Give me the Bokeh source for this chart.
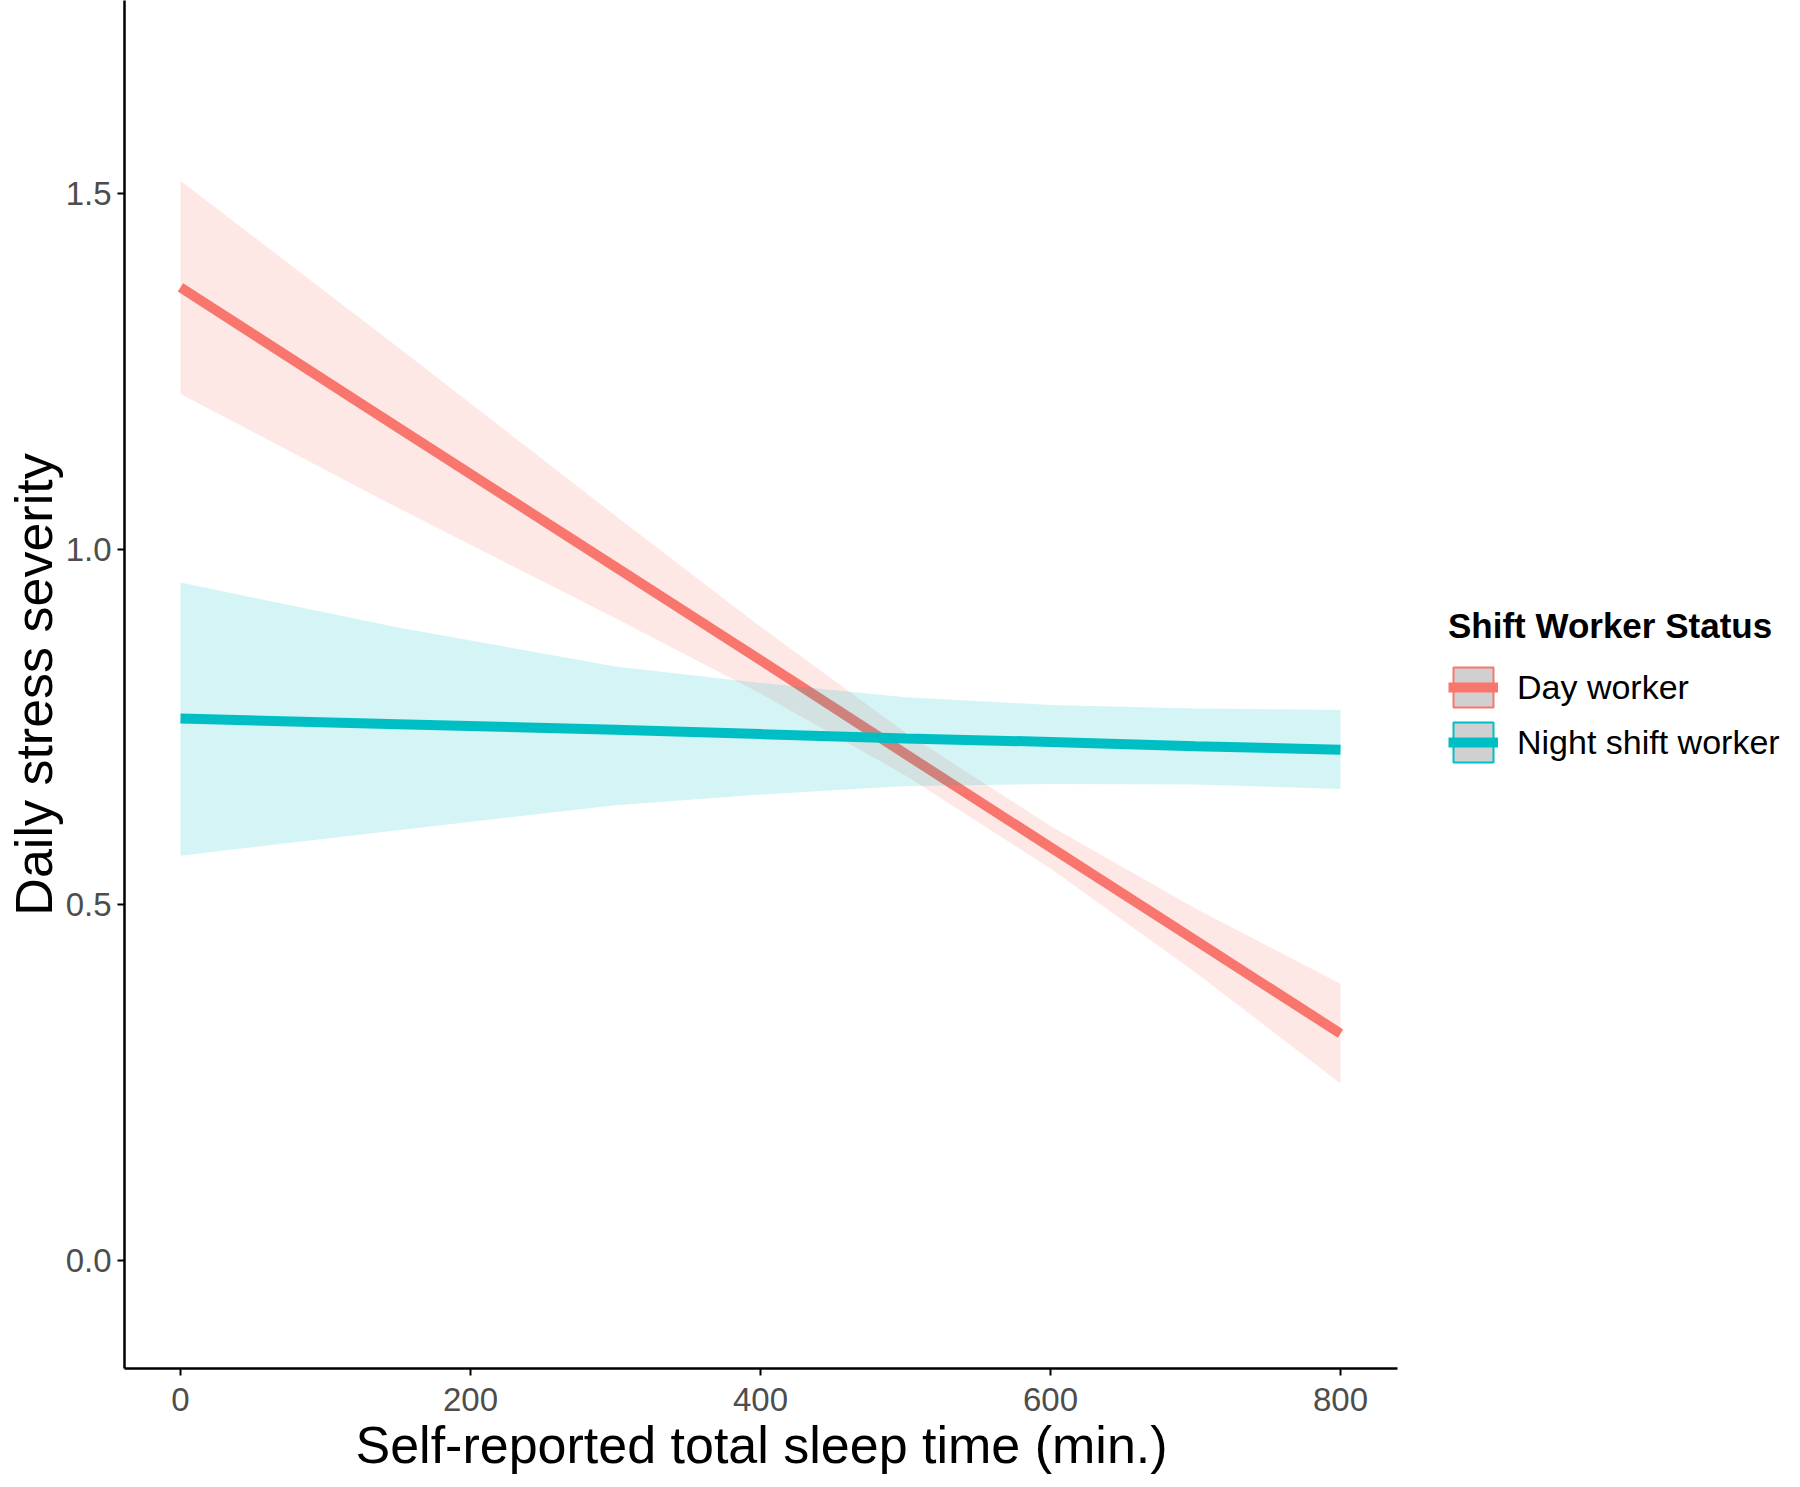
from bokeh.plotting import figure
from bokeh.models import (Legend, LegendItem, FixedTicker, NumeralTickFormatter, Range1d,
                          ColumnDataSource, Title)
from bokeh.embed import file_html
from bokeh.resources import INLINE

# ---- data ----
sleep_x = [0, 150, 300, 400, 500, 600, 700, 800]

day_fit = [1.368, 1.171, 0.975, 0.844, 0.712, 0.581, 0.450, 0.319]
day_hi  = [1.518, 1.284, 1.047, 0.891, 0.742, 0.611, 0.495, 0.389]
day_lo  = [1.218, 1.058, 0.903, 0.797, 0.682, 0.551, 0.405, 0.249]

night_fit = [0.762, 0.754, 0.746, 0.740, 0.734, 0.729, 0.723, 0.718]
night_hi  = [0.953, 0.890, 0.835, 0.812, 0.792, 0.781, 0.776, 0.774]
night_lo  = [0.569, 0.605, 0.640, 0.655, 0.667, 0.670, 0.669, 0.663]

series_names = ["Day worker", "Night shift worker"]
x_ticks = [0, 200, 400, 600, 800]
y_ticks = [0.0, 0.5, 1.0, 1.5]
x_title = "Self-reported total sleep time (min.)"
y_title = "Daily stress severity"
legend_title = "Shift Worker Status"

RED = "#F8766D"
CYAN = "#00BFC4"
FONT = "Liberation Sans"

# plotting frame runs to the right edge so the legend can sit beside the axes;
# the x axis itself is bounded to the data panel
X_LO, X_HI_AXIS, X_HI_FRAME = -38.6, 839, 1106.2
p = figure(width=1784, height=1479, output_backend="svg", toolbar_location=None,
           x_range=Range1d(X_LO, X_HI_FRAME), y_range=Range1d(-0.1518, 1.7713),
           min_border_left=124, min_border_right=0, min_border_top=0,
           min_border_bottom=111)
p.outline_line_color = None
p.grid.visible = False
p.background_fill_color = "white"

# red group: ribbon then line
p.varea(x=sleep_x, y1=day_lo, y2=day_hi, fill_color=RED, fill_alpha=0.17)
day_line = p.line(x=sleep_x, y=day_fit, line_color=RED, line_width=10)
# cyan group
p.varea(x=sleep_x, y1=night_lo, y2=night_hi, fill_color=CYAN, fill_alpha=0.17)
night_line = p.line(x=sleep_x, y=night_fit, line_color=CYAN, line_width=10)

# legend key boxes: one undrawable (NaN) row, used only for the legend swatch
nan = float("nan")
key_src = ColumnDataSource(data=dict(l=[nan], r=[nan], t=[nan], b=[nan]))
day_box = p.quad(left="l", right="r", top="t", bottom="b", source=key_src,
                 fill_color="#D0D0D0", line_color=RED, line_width=2)
night_box = p.quad(left="l", right="r", top="t", bottom="b", source=key_src,
                   fill_color="#D0D0D0", line_color=CYAN, line_width=2)

# axes
for ax in (p.xaxis[0], p.yaxis[0]):
    ax.axis_line_color = "black"
    ax.axis_line_width = 2.5
    ax.major_tick_line_color = "black"
    ax.major_tick_line_width = 2
    ax.major_tick_out = 7
    ax.major_tick_in = 0
    ax.minor_tick_line_color = None
    ax.major_label_text_font = FONT
    ax.major_label_text_font_size = "33px"
    ax.major_label_text_color = "#4D4D4D"
    ax.axis_label_text_font = FONT
    ax.axis_label_text_font_size = "52px"
    ax.axis_label_text_font_style = "normal"
    ax.axis_label_text_color = "black"

p.xaxis.bounds = (X_LO, X_HI_AXIS)
p.xaxis.ticker = FixedTicker(ticks=x_ticks)
p.yaxis.ticker = FixedTicker(ticks=y_ticks)
p.yaxis.formatter = NumeralTickFormatter(format="0.0")
p.yaxis.axis_label = y_title
p.xaxis.major_label_standoff = 12
p.yaxis.major_label_standoff = 6
p.yaxis.axis_label_standoff = 0

# x title centred under the bounded axis
p.add_layout(Title(text=x_title, align="left", offset=231, standoff=0,
                   text_font=FONT, text_font_size="52px", text_font_style="normal",
                   text_color="black"), "below")

legend = Legend(items=[
    LegendItem(label=series_names[0], renderers=[day_box, day_line]),
    LegendItem(label=series_names[1], renderers=[night_box, night_line]),
], location=(1324, 601))
legend.title = legend_title
legend.title_text_font = FONT
legend.title_text_font_size = "35px"
legend.title_text_font_style = "bold"
legend.title_text_color = "black"
legend.title_standoff = 16
legend.label_text_font = FONT
legend.label_text_font_size = "34px"
legend.label_text_color = "black"
legend.glyph_width = 50
legend.glyph_height = 50
legend.label_height = 50
legend.label_standoff = 19
legend.spacing = 5
legend.padding = 0
legend.margin = 0
legend.border_line_color = None
legend.background_fill_alpha = 0
p.add_layout(legend)

open("out.html", "w").write(file_html(p, INLINE))
